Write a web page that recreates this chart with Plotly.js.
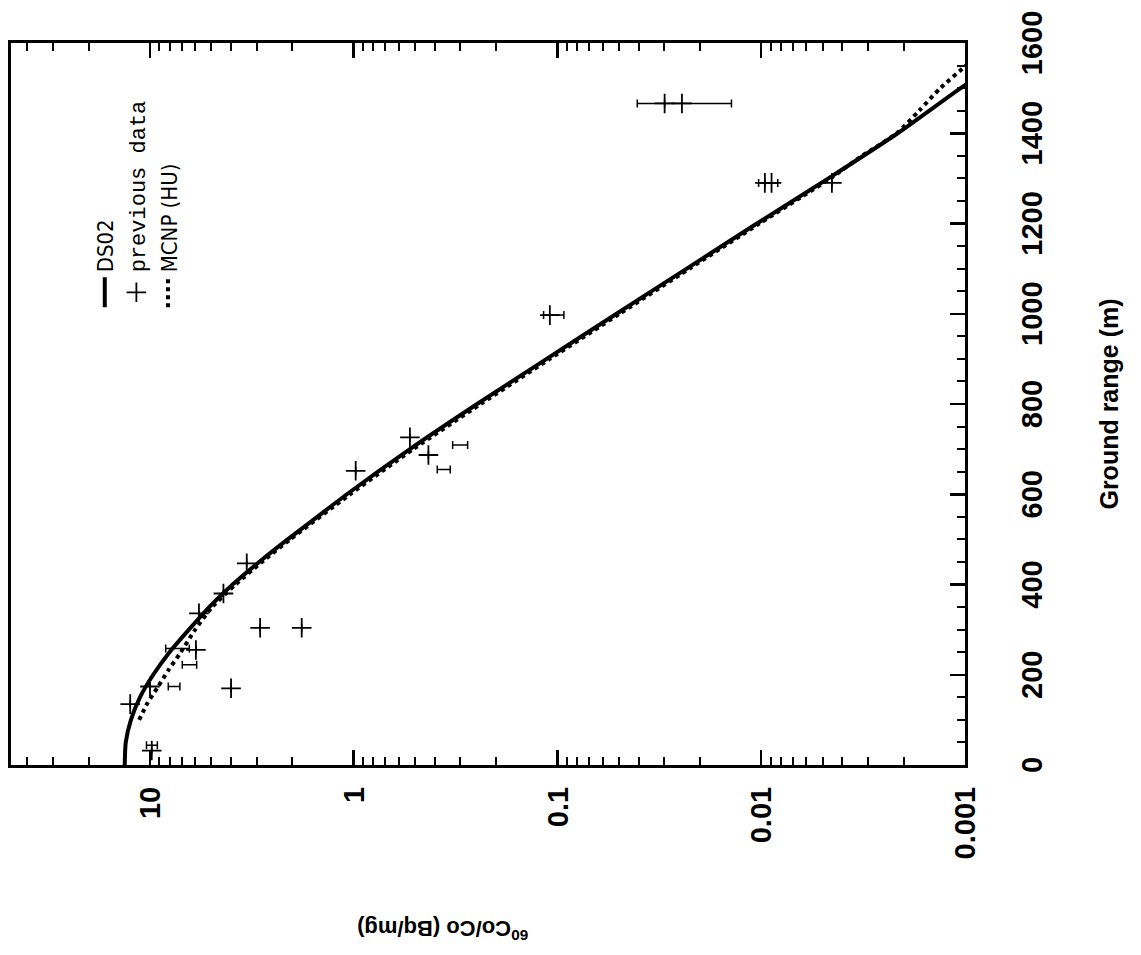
<!DOCTYPE html>
<html><head><meta charset="utf-8">
<script src="https://cdn.plot.ly/plotly-3.0.1.min.js"></script>
<style>
html,body{margin:0;padding:0;background:#fff;overflow:hidden;width:1141px;height:955px;}
#wrap{position:absolute;left:0;top:0;width:955px;height:1141px;transform-origin:0 0;transform:translate(0px,955px) rotate(-90deg);}
</style></head><body><div id="wrap"><div id="chart"></div></div>
<script>
// DS02 calculation (ground range in m, 60Co/Co in Bq/mg)
const ds02Range = [0, 50, 100, 150, 200, 250, 300, 350, 400, 450, 500, 550, 600, 700, 800, 900, 1000, 1100, 1200, 1300, 1400, 1500, 1530];
const ds02Value = [13.3, 13.15, 12.4, 11.2, 9.64, 8.02, 6.44, 5.12, 3.93, 2.91, 2.11, 1.51, 1.08, 0.53, 0.248, 0.113, 0.0513, 0.0232, 0.0105, 0.00468, 0.00214, 0.00105, 0.00083];

// MCNP (HU) calculation
const mcnpRange = [100, 137, 171, 211, 248, 300, 350, 400, 450, 500, 600, 700, 800, 900, 1000, 1100, 1200, 1300, 1350, 1400, 1450, 1500, 1550, 1570];
const mcnpValue = [11.3, 10.3, 9.2, 8.1, 7.1, 6.0, 4.95, 3.8, 2.82, 2.05, 1.04, 0.51, 0.238, 0.109, 0.0495, 0.0225, 0.0102, 0.00458, 0.0032, 0.00216, 0.00168, 0.00132, 0.00099, 0.00088];

// previous data (crosses)
const prevRange = [135, 32, 174, 255, 336, 380, 170, 447, 304, 304, 652, 726, 687, 997, 1466, 1466, 1290, 1290, 1290];
const prevValue = [12.5, 9.8, 10.0, 5.95, 5.75, 4.36, 4.0, 3.35, 2.88, 1.80, 0.978, 0.53, 0.43, 0.109, 0.0298, 0.0245, 0.0096, 0.0089, 0.0045];
const prevErrPlus  = [0, 0, 0, 0, 0, 0, 0, 0, 0, 0, 0, 0, 0, 0.008, 0, 0.0161, 0, 0.0014, 0];
const prevErrMinus = [0, 0, 0, 0, 0, 0, 0, 0, 0, 0, 0, 0, 0, 0.016, 0, 0.0105, 0, 0.0006, 0];

// previous data shown as error bars only
const barRange = [44, 174, 222, 258, 655, 709];
const barValue = [9.8, 7.6, 6.4, 7.3, 0.362, 0.30];
const barErrPlus  = [0.6, 0.53, 0.54, 1.07, 0.027, 0.027];
const barErrMinus = [0.6, 0.47, 0.50, 0.89, 0.026, 0.024];

// axis ticks
const yTickVals = [0.001, 0.01, 0.1, 1, 10];
const yTickText = ['0.001', '0.01', '0.1', '1', '10'];
const xTickVals = [0, 200, 400, 600, 800, 1000, 1200, 1400, 1600];

const traces = [
  {x: ds02Range, y: ds02Value, mode: 'lines', name: 'DS02',
   line: {color: '#000', width: 4, shape: 'spline', smoothing: 0.6}},
  {x: prevRange, y: prevValue, mode: 'markers',
   name: '<span style="font-family:Liberation Mono, DejaVu Sans Mono, monospace">previous data</span>',
   marker: {symbol: 'cross-thin', size: 14, color: '#000', line: {width: 1.8, color: '#000'}},
   error_y: {type: 'data', symmetric: false, array: prevErrPlus, arrayminus: prevErrMinus,
             color: '#000', thickness: 1.5, width: 4}},
  {x: mcnpRange, y: mcnpValue, mode: 'lines', name: 'MCNP (HU)',
   line: {color: '#000', width: 4, dash: 'dot', shape: 'spline', smoothing: 0.6}},
  {x: barRange, y: barValue, mode: 'markers', showlegend: false,
   marker: {size: 4, color: '#000', opacity: 0},
   error_y: {type: 'data', symmetric: false, array: barErrPlus, arrayminus: barErrMinus,
             color: '#000', thickness: 1.5, width: 4}}
];

const tickFont = {family: 'Liberation Sans, Arial, sans-serif', size: 29, color: '#000', weight: 'bold'};

const layout = {
  width: 955, height: 1141,
  margin: {l: 190, r: 43, t: 11, b: 176},
  paper_bgcolor: '#fff', plot_bgcolor: '#fff',
  showlegend: true,
  legend: {x: 0.627, y: 0.9235, xanchor: 'left', yanchor: 'top', bgcolor: 'rgba(0,0,0,0)',
           font: {family: 'Liberation Sans Narrow, DejaVu Sans Condensed, Liberation Sans, sans-serif', size: 22, color: '#000'},
           tracegroupgap: 0},
  xaxis: {
    type: 'linear', range: [0, 1600],
    tickmode: 'array', tickvals: xTickVals,
    ticks: 'inside', ticklen: 15, tickwidth: 2.5, tickcolor: '#000',
    minor: {tickmode: 'linear', tick0: 0, dtick: 50, ticks: 'inside', ticklen: 8, tickwidth: 2, tickcolor: '#000'},
    showline: true, linewidth: 3, linecolor: '#000', mirror: true,
    showgrid: false, zeroline: false,
    tickfont: tickFont, ticklabelstandoff: 39,
    title: {text: 'Ground range (m)', font: {family: 'Liberation Sans, Arial, sans-serif', size: 25, color: '#000', weight: 'bold'}, standoff: 54}
  },
  yaxis: {
    type: 'log', range: [-3, 1.682],
    tickmode: 'array', tickvals: yTickVals, ticktext: yTickText,
    ticks: 'inside', ticklen: 15, tickwidth: 2.5, tickcolor: '#000',
    minor: {dtick: 'D1', ticks: 'inside', ticklen: 8, tickwidth: 2, tickcolor: '#000'},
    showline: true, linewidth: 3, linecolor: '#000', mirror: 'ticks',
    showgrid: false, zeroline: false,
    tickfont: tickFont, ticklabelstandoff: 13
  },
  annotations: [{
    text: '<sup>60</sup>Co/Co (Bq/mg)', xref: 'paper', yref: 'paper',
    x: -0.2285, y: 0.547, xanchor: 'center', yanchor: 'middle', textangle: -90, showarrow: false,
    font: {family: 'Liberation Sans, Arial, sans-serif', size: 22, color: '#000', weight: 'bold'}
  }]
};

Plotly.newPlot('chart', traces, layout, {displayModeBar: false, staticPlot: true});
</script>
</body></html>
